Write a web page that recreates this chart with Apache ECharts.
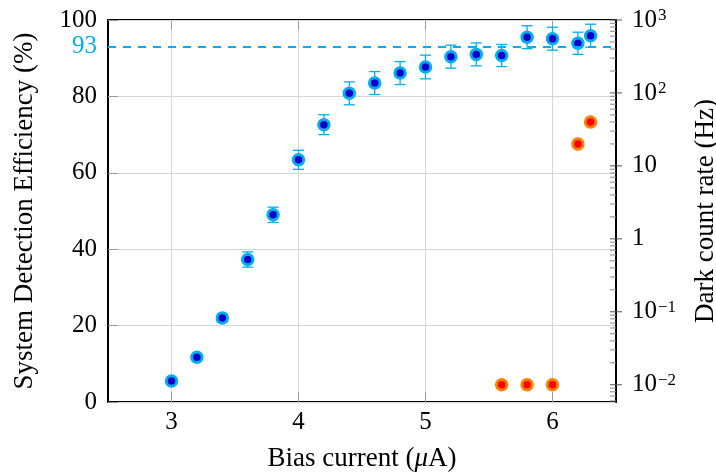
<!DOCTYPE html>
<html><head><meta charset="utf-8">
<script src="https://cdn.jsdelivr.net/npm/echarts@6/dist/echarts.min.js"></script>
<style>html,body{margin:0;padding:0;background:#fff}#c{width:716px;height:473px}</style>
</head><body><div id="c"></div>
<script>
// ---- data ----
const biasCurrent = [3.0,3.2,3.4,3.6,3.8,4.0,4.2,4.4,4.6,4.8,5.0,5.2,5.4,5.6,5.8,6.0,6.2,6.3];
const sde        = [5.5,11.7,22.0,37.3,49.0,63.4,72.6,80.8,83.5,86.1,87.7,90.4,91.0,90.7,95.5,95.1,93.9,95.9];
const sdeErr     = [0.5,0.6,1.0,2.0,2.0,2.5,2.6,3.0,3.0,3.0,3.1,3.0,3.0,2.9,3.0,3.0,2.9,3.0];
const darkCurrent = [5.6,5.8,6.0,6.2,6.3];
const darkRate    = [0.01,0.01,0.01,20,40];
const refLevel = 93;
const rightMajorTicks = [0.01,0.1,1,10,100,1000];
const rightMinorTicks = [0.006,0.007,0.008,0.009,
  0.02,0.03,0.04,0.05,0.06,0.07,0.08,0.09,
  0.2,0.3,0.4,0.5,0.6,0.7,0.8,0.9,
  2,3,4,5,6,7,8,9,
  20,30,40,50,60,70,80,90,
  200,300,400,500,600,700,800,900];

// ---- style ----
const FONT = '"Liberation Serif", "DejaVu Serif", serif';
const CYAN = '#00AEEF';
const XMIN = 2.5, XMAX = 6.5;
const TICK_GRAY = '#999999';
const GRID_GRAY = '#d6d6d6';

function supLabel(v){
  const e = Math.log10(v);
  const r = Math.round(e);
  if (Math.abs(e - r) > 1e-6) return '';
  if (r === 0) return '1';
  if (r === 1) return '10';
  return '10{sup|' + (r < 0 ? '\u2212' + (-r) : r) + '}';
}

const chart = echarts.init(document.getElementById('c'), null, {renderer:'canvas'});
const option = {
  animation: false,
  backgroundColor: '#fff',
  grid: {left:108, right:100, top:20, bottom:71, containLabel:false, outerBoundsMode:'none'},
  xAxis: [
    {type:'value', min:XMIN, max:XMAX, splitNumber:4, position:'bottom', z:1,
     axisLine:{show:true, onZero:false, lineStyle:{color:'#000', width:2}},
     axisTick:{show:true, inside:true, length:10, lineStyle:{color:TICK_GRAY, width:1}},
     axisLabel:{showMinLabel:false, showMaxLabel:false, color:'#000', fontSize:25, fontFamily:FONT, margin:8},
     splitLine:{show:true, lineStyle:{color:GRID_GRAY, width:1}},
     name:'Bias current ({i|\u03bc}A)', nameLocation:'middle', nameGap:43,
     nameTextStyle:{color:'#000', fontSize:27, fontFamily:FONT,
       rich:{i:{fontSize:27, fontFamily:FONT, fontStyle:'italic', color:'#000'}}}},
    {type:'value', min:XMIN, max:XMAX, splitNumber:4, position:'top', z:1,
     axisLine:{show:true, onZero:false, lineStyle:{color:'#000', width:2}},
     axisTick:{show:true, inside:true, length:10, lineStyle:{color:TICK_GRAY, width:1}},
     axisLabel:{show:false}, splitLine:{show:false}}
  ],
  yAxis: [
    {type:'value', min:0, max:100, interval:20, position:'left', z:3,
     axisLine:{show:true, onZero:false, lineStyle:{color:'#000', width:2}},
     axisTick:{show:true, inside:true, length:10, lineStyle:{color:TICK_GRAY, width:1}},
     axisLabel:{color:'#000', fontSize:25, fontFamily:FONT, margin:11},
     splitLine:{show:true, lineStyle:{color:GRID_GRAY, width:1}},
     name:'System Detection Efficiency (%)', nameLocation:'middle', nameGap:70, nameRotate:90,
     nameTextStyle:{color:'#000', fontSize:27, fontFamily:FONT}},
    {type:'log', logBase:10, min:0.0058, max:1000, position:'right', z:3,
     axisLine:{show:true, onZero:false, lineStyle:{color:'#000', width:2}},
     axisTick:{show:false},
     axisLabel:{showMinLabel:false, color:'#000', fontSize:25, fontFamily:FONT, margin:16,
       formatter:supLabel,
       rich:{sup:{fontSize:17, fontFamily:FONT, color:'#000', verticalAlign:'top', padding:[0,0,0,1]}}},
     splitLine:{show:false},
     name:'Dark count rate (Hz)', nameLocation:'middle', nameGap:76, nameRotate:90,
     nameTextStyle:{color:'#000', fontSize:27, fontFamily:FONT}}
  ],
  series: [
    {type:'custom', name:'err', xAxisIndex:0, yAxisIndex:0, z:2, silent:true,
     data: biasCurrent.map((x,i)=>[x, sde[i], sdeErr[i]]),
     encode:{x:0, y:1},
     renderItem:function(params, api){
       const x=api.value(0), y=api.value(1), e=api.value(2);
       const t=api.coord([x, y+e]), b=api.coord([x, y-e]);
       const hw=5.5, st={stroke:CYAN, lineWidth:1.3};
       return {type:'group', children:[
         {type:'line', shape:{x1:t[0],y1:t[1],x2:b[0],y2:b[1]}, style:st},
         {type:'line', shape:{x1:t[0]-hw,y1:t[1],x2:t[0]+hw,y2:t[1]}, style:st},
         {type:'line', shape:{x1:b[0]-hw,y1:b[1],x2:b[0]+hw,y2:b[1]}, style:st}
       ]};
     },
     markLine:{symbol:'none', silent:true, animation:false,
       lineStyle:{color:CYAN, type:[8,7], width:2},
       label:{show:true, position:'start', formatter:String(refLevel), color:CYAN, fontSize:25, fontFamily:FONT, distance:11},
       data:[{yAxis:refLevel}]}},
    {type:'scatter', name:'SDE', xAxisIndex:0, yAxisIndex:0, z:3,
     data: biasCurrent.map((x,i)=>[x, sde[i]]),
     symbol:'circle', symbolSize:10.5,
     itemStyle:{color:'#0000C8', borderColor:CYAN, borderWidth:3, opacity:1}},
    {type:'scatter', name:'Dark', xAxisIndex:0, yAxisIndex:1, z:3,
     data: darkCurrent.map((x,i)=>[x, darkRate[i]]),
     symbol:'circle', symbolSize:10.5,
     itemStyle:{color:'#FF0000', borderColor:'#FF8000', borderWidth:3, opacity:1}},
    {type:'custom', name:'rticks', xAxisIndex:0, yAxisIndex:1, z:5, silent:true, clip:false,
     data: rightMajorTicks.map(v=>[XMAX, v, 1]).concat(rightMinorTicks.map(v=>[XMAX, v, 0])),
     encode:{x:0, y:1},
     renderItem:function(params, api){
       const p=api.coord([api.value(0), api.value(1)]);
       const major=api.value(2)===1;
       const x0 = p[0]-6, x1 = major ? p[0]+6 : p[0];
       return {type:'line', shape:{x1:x0, y1:p[1], x2:x1, y2:p[1]},
         style:{stroke: major ? '#555' : '#888', lineWidth:1}};
     }}
  ]
};
chart.setOption(option);
</script>
</body></html>
